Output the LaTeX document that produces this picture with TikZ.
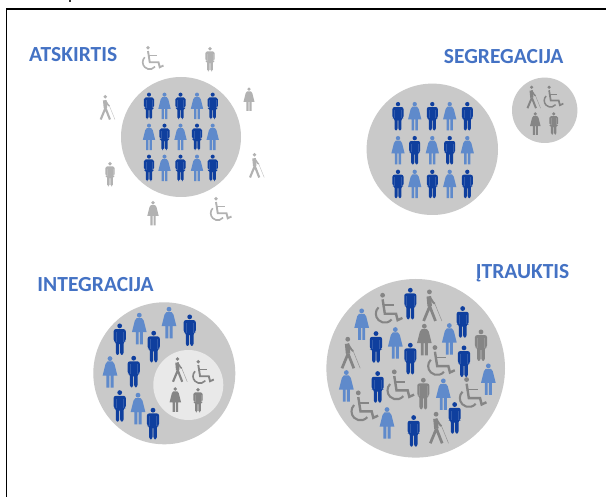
\documentclass[tikz,border=0pt]{standalone}
\usepackage{fontspec}
\setmainfont{Carlito}
\definecolor{manblue}{HTML}{0F3F9E}
\definecolor{womanblue}{HTML}{5F8ACB}
\definecolor{disc}{HTML}{C9C9C9}
\definecolor{innerdisc}{HTML}{E9E9E9}
\definecolor{titleblue}{HTML}{4472C4}
\definecolor{faint}{HTML}{B2B2B2}
\definecolor{midgrey}{HTML}{858585}
\tikzset{
  title/.style={font=\bfseries\fontsize{21.5}{24}\selectfont,text=titleblue,inner sep=0pt,anchor=west}
}
% #1 x, #2 y, #3 height, #4 colour
\newcommand{\PMan}[4]{\begin{scope}[shift={(#1,#2)},x=#3*0.01pt,y=#3*0.01pt,fill=#4]
 \fill (0,41) circle (7.5);
 \fill[rounded corners=#3*0.07pt] (-19,31)--(19,31)--(19,-8)--(12,-8)--(12,-50)--(1.5,-50)--(1.5,-10)--(-1.5,-10)--(-1.5,-50)--(-12,-50)--(-12,-8)--(-19,-8)--cycle;
 \draw[white,opacity=.15,line width=#3*0.02pt] (-11.5,22)--(-11.5,-8) (11.5,22)--(11.5,-8);
\end{scope}}
\newcommand{\PWoman}[4]{\begin{scope}[shift={(#1,#2)},x=#3*0.01pt,y=#3*0.01pt,fill=#4]
 \fill (0,41) circle (7.5);
 \fill (-8,32)--(8,32)--(14,24)--(23,-12)--(11,-12)--(11,-50)--(2,-50)--(2,-12)--(-2,-12)--(-2,-50)--(-11,-50)--(-11,-12)--(-23,-12)--(-14,24)--cycle;
\end{scope}}
\newcommand{\PWalker}[4]{\begin{scope}[shift={(#1,#2)},x=#3*0.01pt,y=#3*0.01pt,fill=#4,draw=#4]
 \fill (-6,41) circle (7.5);
 \draw[line width=#3*0.14pt] (-8,27)--(-5,-4);
 \draw[line width=#3*0.085pt] (-5,-4)--(-24,-50) (-5,-4)--(13,-50);
 \draw[line width=#3*0.06pt] (-6,27)--(6,8)--(11,4);
 \draw[line width=#3*0.016pt,opacity=.8] (11,4)--(33,-50);
\end{scope}}
\newcommand{\PChair}[4]{\begin{scope}[shift={(#1,#2)},x=#3*0.01pt,y=#3*0.01pt,fill=#4,draw=#4]
 \fill (-20,41) circle (7.5);
 \draw[line width=#3*0.075pt] (-20,28)--(-13,-17)--(22,-17)--(27,-37)--(42,-30);
 \draw[line width=#3*0.06pt] (-18,10)--(15,10);
 \draw[line width=#3*0.065pt] (-33,3) arc[start angle=135,end angle=320,radius=28];
\end{scope}}
\begin{document}
\begin{tikzpicture}[x=1pt,y=-1pt]
\useasboundingbox (0,0) rectangle (606,497);
\fill[white] (0,0) rectangle (606,497);
\draw[line width=1.8pt,black] (6.5,497) -- (6.5,9) -- (606,9);
\fill[black!80] (69,0) rectangle (71,2);

% --- ATSKIRTIS
\node[title] (t1) at (29,54.5) {ATSKIRTIS};
\fill[disc] (181,137) circle (60);
\foreach \x/\y in {149/105.7,180.5/105.7,212.7/105.7,164.5/136.7,197/136.7,149/167.7,180.5/167.7,212.7/167.7} {\PMan{\x}{\y}{27}{manblue}}
\foreach \x/\y in {164.5/105.7,197/105.7,149/136.7,180.5/136.7,212.7/136.7,164.5/167.7,197/167.7} {\PWoman{\x}{\y}{27}{womanblue}}
\PChair{153}{58}{25}{faint}
\PMan{210}{59}{25}{faint}
\PWoman{249}{99}{24}{faint}
\PWalker{106.7}{107}{25}{faint}
\PWalker{256}{165}{25}{faint}
\PMan{110}{174}{25}{faint}
\PWoman{153}{213}{25}{faint}
\PChair{221}{209}{25}{faint}

% --- SEGREGACIJA
\node[title] (t2) at (443.7,56.8) {SEGREGACIJA};
\fill[disc] (432.3,149.3) circle (65.7);
\fill[disc] (544.7,110.3) circle (32.7);
\foreach \x/\y in {398/116,432.3/116,467.3/116,414.7/150,449.7/150,398/183.7,432.3/183.7,467.3/183.7} {\PMan{\x}{\y}{29}{manblue}}
\foreach \x/\y in {414.7/116,449.7/116,398/150,432.3/150,467.3/150,414.7/183.7,449.7/183.7} {\PWoman{\x}{\y}{29}{womanblue}}
\PWalker{533}{96.7}{23}{midgrey}
\PChair{553.7}{96.7}{23}{midgrey}
\PWoman{535.3}{123.3}{23}{midgrey}
\PMan{553.7}{123.3}{23}{midgrey}

% --- INTEGRACIJA
\node[title] (t3) at (37.3,284.5) {INTEGRACIJA};
\fill[disc] (164.3,373.3) circle (71);
\fill[innerdisc] (188.3,385) circle (35);
\foreach \x/\y in {119.7/339,189.7/330,153.7/346.3,133.7/371.3,119.7/405.7,153/423.3} {\PMan{\x}{\y}{32}{manblue}}
\foreach \x/\y in {139.3/328.3,169/322.3,110/371.7,138/408.3} {\PWoman{\x}{\y}{32}{womanblue}}
\PWalker{179}{369.3}{25}{midgrey}
\PChair{203.3}{372}{25}{midgrey}
\PWoman{175.3}{399.3}{25}{midgrey}
\PMan{198}{400}{25}{midgrey}

% --- ITRAUKTIS
\node[title] (t4) at (475.7,273) {ĮTRAUKTIS};
\fill[disc] (415.7,368.3) circle (89.3);
\foreach \x/\y in {322/190,479/245,219/320,322/355,483/363,224/440,455/533,332/572} {\pgfmathsetmacro{\px}{303+\x/3}\pgfmathsetmacro{\py}{240+\y/3}\PMan{\px}{\py}{32}{manblue}}
\foreach \x/\y in {176/252,277/308,439/296,556/417,130/437,421/462,252/548} {\pgfmathsetmacro{\px}{303+\x/3}\pgfmathsetmacro{\py}{240+\y/3}\PWoman{\px}{\py}{32}{womanblue}}
\foreach \x/\y in {258/205,415/362,293/435,510/458,185/498} {\pgfmathsetmacro{\px}{303+\x/3}\pgfmathsetmacro{\py}{240+\y/3}\PChair{\px}{\py}{32}{midgrey}}
\foreach \x/\y in {385/195,140/337,405/562} {\pgfmathsetmacro{\px}{303+\x/3}\pgfmathsetmacro{\py}{240+\y/3}\PWalker{\px}{\py}{32}{midgrey}}
\foreach \x/\y in {534/315,361/460} {\pgfmathsetmacro{\px}{303+\x/3}\pgfmathsetmacro{\py}{240+\y/3}\PMan{\px}{\py}{32}{midgrey}}
\pgfmathsetmacro{\px}{303+364/3}\pgfmathsetmacro{\py}{240+298/3}\PWoman{\px}{\py}{32}{midgrey}
\end{tikzpicture}
\end{document}
